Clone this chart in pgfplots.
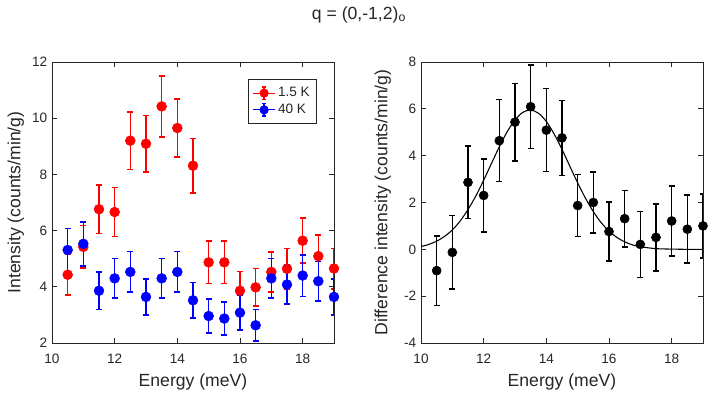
\documentclass[border=0pt]{standalone}
\usepackage{pgfplots}
\pgfplotsset{compat=1.18}
\usepackage{fontspec}
\setmainfont{Liberation Sans}
\definecolor{axgray}{RGB}{38,38,38}

\pgfplotsset{
  panel/.style={
    scale only axis, width=211.5pt, height=210.75pt,
    xmin=10, xmax=19, xtick={10,12,14,16,18},
    axis line style={axgray, line width=0.6pt},
    tick style={axgray, line width=0.6pt},
    major tick length=4pt,
    tick label style={font=\fontsize{10.2}{12}\selectfont, text=axgray},
    xticklabel style={yshift=-4.5pt},
    label style={font=\fontsize{13.2}{15}\selectfont, text=axgray},
    /pgf/number format/assume math mode=true,
    xlabel={Energy (meV)},
    xlabel style={at={(axis description cs:0.5,-0.1377)}, anchor=center},
  },
  ebar/.style={
    only marks, mark=*, mark size=3.7pt,
    error bars/y dir=both, error bars/y explicit,
    error bars/error bar style={line width=1.2pt},
    error bars/error mark options={rotate=90, mark size=2.25pt, line width=1.2pt},
  },
}

\pgfplotstableread{
x     y      e
10.5  4.43   0.72
11.0  5.42   0.76
11.5  6.76   0.87
12.0  6.66   0.87
12.5  9.20   1.02
13.0  9.09   1.01
13.5  10.42  1.09
14.0  9.65   1.04
14.5  8.31   0.97
15.0  4.87   0.75
15.5  4.87   0.75
16.0  3.86   0.68
16.5  3.98   0.67
17.0  4.53   0.71
17.5  4.64   0.72
18.0  5.64   0.80
18.5  5.09   0.76
19.0  4.65   0.72
}\redK

\pgfplotstableread{
x     y      e
10.5  5.31   0.77
11.0  5.53   0.78
11.5  3.86   0.67
12.0  4.30   0.70
12.5  4.53   0.72
13.0  3.64   0.64
13.5  4.30   0.70
14.0  4.53   0.72
14.5  3.52   0.64
15.0  2.96   0.60
15.5  2.87   0.58
16.0  3.08   0.62
16.5  2.63   0.56
17.0  4.30   0.70
17.5  4.08   0.69
18.0  4.40   0.74
18.5  4.20   0.70
19.0  3.64   0.64
}\blueK

\pgfplotstableread{
x     y      e
10.5  -0.91  1.49
11.0  -0.13  1.57
11.5  2.86   1.54
12.0  2.30   1.57
12.5  4.64   1.75
13.0  5.43   1.66
13.5  6.09   1.78
14.0  5.09   1.77
14.5  4.76   1.60
15.0  1.87   1.33
15.5  2.00   1.29
16.0  0.76   1.27
16.5  1.31   1.21
17.0  0.21   1.41
17.5  0.51   1.43
18.0  1.21   1.50
18.5  0.86   1.45
19.0  1.00   1.36
}\diffK

\begin{document}
\begin{tikzpicture}
\path[use as bounding box] (-39pt,-39.75pt) rectangle (499.5pt,257.25pt);

\node[font=\fontsize{13.2}{15}\selectfont, text=axgray] at (230.25pt,246pt) {q = (0,-1,2)\textsubscript{o}};

\begin{axis}[panel, at={(0pt,0pt)}, anchor=south west,
  ymin=2, ymax=12, ytick={2,4,...,12},
  ylabel={Intensity (counts/min/g)},
  ylabel style={at={(axis description cs:-0.128,0.5)}, anchor=center, rotate=0},
  legend style={at={(0.94,0.94)}, anchor=north east, draw=axgray, line width=0.9pt,
    font=\fontsize{10.2}{12}\selectfont, text=axgray, inner xsep=3pt, inner ysep=4pt,
    row sep=0pt},
  legend cell align=left,
  legend image code/.code={
    \path (0pt,0pt) -- (16pt,0pt);
    \draw[#1, mark=none, line width=1.2pt] (8pt,-4.8pt) -- (8pt,4.8pt);
    \draw[#1, mark=none, line width=1.2pt] (6.5pt,-4.8pt) -- (9.5pt,-4.8pt);
    \draw[#1, mark=none, line width=1.2pt] (6.5pt,4.8pt) -- (9.5pt,4.8pt);
    \draw[#1, only marks, mark size=3pt] plot coordinates {(8pt,0pt)};
  },
]
\addplot+[ebar, red, mark options={fill=red, draw=red}] table[x=x, y=y, y error=e] {\redK};
\addlegendentry{1.5 K}
\addplot+[ebar, blue, mark options={fill=blue, draw=blue}] table[x=x, y=y, y error=e] {\blueK};
\addlegendentry{40 K}
\end{axis}

\begin{axis}[panel, at={(276.75pt,0pt)}, anchor=south west,
  ymin=-4, ymax=8, ytick={-4,-2,...,8},
  ylabel={Difference intensity (counts/min/g)},
  ylabel style={at={(axis description cs:-0.135,0.5)}, anchor=center, rotate=0},
]
\addplot+[ebar, black, mark options={fill=black, draw=black}, mark size=3.4pt] table[x=x, y=y, y error=e] {\diffK};
% fitted peak
\addplot[black, line width=0.8pt, smooth] coordinates {
  (10,0.12) (10.25,0.21) (10.5,0.35) (10.75,0.55) (11,0.83) (11.25,1.21)
  (11.5,1.70) (11.75,2.28) (12,2.95) (12.25,3.67) (12.5,4.38) (12.75,5.02)
  (13,5.53) (13.25,5.85) (13.5,5.95) (13.75,5.81) (14,5.46) (14.25,4.92)
  (14.5,4.27) (14.75,3.55) (15,2.84) (15.25,2.18) (15.5,1.61) (15.75,1.14)
  (16,0.78) (16.25,0.51) (16.5,0.32) (16.75,0.19) (17,0.11) (17.5,0.03)
  (18,0.01) (18.5,0.00) (19,0.00)
};
\end{axis}
\end{tikzpicture}
\end{document}
